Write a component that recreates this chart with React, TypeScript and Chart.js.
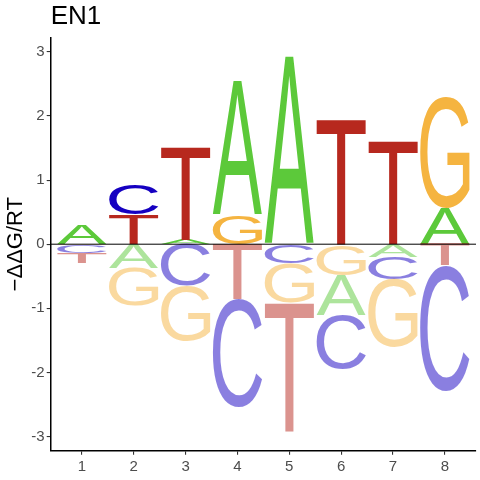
import { useEffect, useRef } from "react";
import { Chart, registerables } from "chart.js";

Chart.register(...registerables);

const positions = [1, 2, 3, 4, 5, 6, 7, 8];
const letters = ["A", "C", "G", "T"];
const valuesA = [0.29, -0.37, 0.07, 2.09, 2.93, -0.63, -0.2, 0.57];
const valuesC = [-0.12, 0.48, -0.65, -1.69, -0.29, -0.84, -0.35, -1.96];
const valuesG = [-0.02, -0.59, -0.86, 0.45, -0.62, -0.48, -1.06, 1.72];
const valuesT = [-0.15, 0.47, 1.45, -0.86, -2.02, 1.95, 1.6, -0.33];
const xTicks = [1, 2, 3, 4, 5, 6, 7, 8];
const yTicks = [-3, -2, -1, 0, 1, 2, 3];
const letterColors = ["#5cc93a", "#1500c1", "#f5b440", "#b7281e"];

const LETTER_FONT = "normal 200px 'Liberation Sans', Arial, sans-serif";
const HALF_WIDTH = 0.475;

function drawLetter(
  ctx: CanvasRenderingContext2D,
  ch: string,
  left: number,
  right: number,
  top: number,
  bottom: number,
  color: string,
  alpha: number
) {
  const w = right - left;
  const h = bottom - top;
  if (w <= 0 || h <= 0.05) return;
  ctx.save();
  ctx.font = LETTER_FONT;
  ctx.textAlign = "left";
  ctx.textBaseline = "alphabetic";
  const m = ctx.measureText(ch);
  const gl = m.actualBoundingBoxLeft;
  const gw = m.actualBoundingBoxLeft + m.actualBoundingBoxRight;
  const ga = m.actualBoundingBoxAscent;
  const gh = m.actualBoundingBoxAscent + m.actualBoundingBoxDescent;
  ctx.globalAlpha = alpha;
  ctx.fillStyle = color;
  ctx.translate(left, top);
  ctx.scale(w / gw, h / gh);
  ctx.fillText(ch, gl, ga);
  ctx.restore();
}

const logoPlugin = {
  id: "logoLetters",
  afterDatasetsDraw(chart: any) {
    const { ctx, chartArea, scales } = chart;
    const xs = scales.x;
    const ys = scales.y;
    ctx.save();
    ctx.beginPath();
    ctx.rect(chartArea.left, chartArea.top, chartArea.right - chartArea.left, chartArea.bottom - chartArea.top);
    ctx.clip();
    positions.forEach((p, i) => {
      const items = chart.data.datasets.map((ds: any, k: number) => ({
        ch: ds.label as string,
        v: ds.data[i].y as number,
        color: letterColors[k],
      }));
      const left = xs.getPixelForValue(p - HALF_WIDTH);
      const right = xs.getPixelForValue(p + HALF_WIDTH);
      const pos = items.filter((it: any) => it.v > 0).sort((a: any, b: any) => a.v - b.v);
      let base = 0;
      pos.forEach((it: any) => {
        const top = ys.getPixelForValue(base + it.v);
        const bottom = ys.getPixelForValue(base);
        drawLetter(ctx, it.ch, left, right, top, bottom, it.color, 1);
        base += it.v;
      });
      const neg = items.filter((it: any) => it.v < 0).sort((a: any, b: any) => b.v - a.v);
      base = 0;
      neg.forEach((it: any) => {
        const top = ys.getPixelForValue(base);
        const bottom = ys.getPixelForValue(base + it.v);
        drawLetter(ctx, it.ch, left, right, top, bottom, it.color, 0.5);
        base += it.v;
      });
    });
    const y0 = ys.getPixelForValue(0);
    ctx.strokeStyle = "#000";
    ctx.lineWidth = 1;
    ctx.beginPath();
    ctx.moveTo(chartArea.left, y0);
    ctx.lineTo(chartArea.right, y0);
    ctx.stroke();
    ctx.restore();
  },
};

export default function App() {
  const ref = useRef<HTMLCanvasElement | null>(null);
  useEffect(() => {
    document.body.style.margin = "0";
    const canvas = ref.current;
    if (!canvas) return;
    const series = [valuesA, valuesC, valuesG, valuesT];
    const chart = new Chart(canvas, {
      type: "scatter",
      data: {
        datasets: letters.map((l, k) => ({
          label: l,
          data: positions.map((p, i) => ({ x: p, y: series[k][i] })),
          pointRadius: 0,
          showLine: false,
        })),
      },
      options: {
        animation: false,
        responsive: false,
        events: [],
        layout: { padding: { left: 0, right: 4, top: 0, bottom: 0 } },
        plugins: {
          legend: { display: false },
          tooltip: { enabled: false },
          title: {
            display: true,
            text: "EN1",
            align: "start",
            fullSize: false,
            color: "#000",
            font: { family: "'Liberation Sans', Arial, sans-serif", size: 26, weight: "normal" },
            padding: { top: 1.4, bottom: 5.1 },
          },
        },
        scales: {
          x: {
            type: "linear",
            min: 0.4,
            max: 8.6,
            afterBuildTicks: (s: any) => {
              s.ticks = xTicks.map((v) => ({ value: v }));
            },
            afterFit: (s: any) => {
              s.height = 29.3;
            },
            grid: { display: true, drawOnChartArea: false, drawTicks: true, tickLength: 4, color: "#333", lineWidth: 1.1 },
            border: { display: true, color: "#000", width: 1.5 },
            ticks: {
              color: "#4d4d4d",
              font: { family: "'Liberation Sans', Arial, sans-serif", size: 15 },
              padding: 3,
              maxRotation: 0,
              autoSkip: false,
            },
          },
          y: {
            type: "linear",
            min: -3.22,
            max: 3.22,
            afterBuildTicks: (s: any) => {
              s.ticks = yTicks.map((v) => ({ value: v }));
            },
            afterFit: (s: any) => {
              s.width = 50.7;
            },
            grid: { display: true, drawOnChartArea: false, drawTicks: true, tickLength: 4, color: "#333", lineWidth: 1.1 },
            border: { display: true, color: "#000", width: 1.5 },
            ticks: {
              color: "#4d4d4d",
              font: { family: "'Liberation Sans', Arial, sans-serif", size: 15 },
              padding: 2,
              autoSkip: false,
            },
            title: {
              display: true,
              text: "−ΔΔG/RT",
              color: "#000",
              font: { family: "'Liberation Sans', Arial, sans-serif", size: 22 },
              padding: { top: 3, bottom: 0 },
            },
          },
        },
      },
      plugins: [logoPlugin],
    });
    return () => chart.destroy();
  }, []);
  return (
    <div style={{ width: 480, height: 480 }}>
      <canvas ref={ref} width={480} height={480} style={{ display: "block" }} />
    </div>
  );
}
